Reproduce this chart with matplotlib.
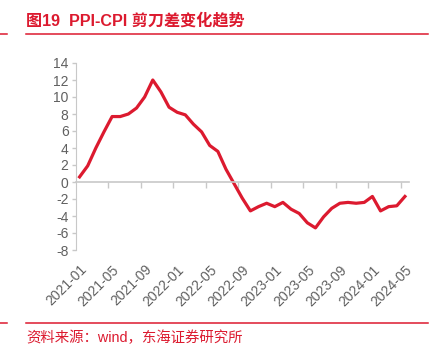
import matplotlib
matplotlib.use('Agg')
import matplotlib.pyplot as plt
from matplotlib.lines import Line2D
import pandas as pd

# PPI yoy minus CPI yoy, monthly, %
months = pd.date_range('2021-01', '2024-05', freq='MS').strftime('%Y-%m').tolist()
spread = [0.6, 1.9, 4.0, 5.9, 7.7, 7.7, 8.0, 8.7, 10.0, 12.0, 10.6, 8.8,
          8.2, 7.9, 6.8, 5.9, 4.3, 3.6, 1.5, -0.2, -1.9, -3.4, -2.9, -2.5,
          -2.9, -2.4, -3.2, -3.7, -4.8, -5.4, -4.1, -3.1, -2.5, -2.4, -2.5, -2.4,
          -1.7, -3.4, -2.9, -2.8, -1.7]
yticks = list(range(-8, 15, 2))

red = '#DC1A2F'
grey_txt = '#606060'
grey_ax = '#C8C8C8'
W, H = 434, 348

fig = plt.figure(figsize=(W / 100, H / 100), dpi=100)
ax = fig.add_axes([75.5 / W, 1 - 250 / H, (409 - 75.5) / W, (250 - 63) / H])

x = list(range(len(months)))
ax.plot(x, spread, color=red, lw=2.3, solid_joinstyle='round', clip_on=False)

ax.set_xlim(-0.5, len(months) - 0.5)
ax.set_ylim(-8, 14)
ax.set_yticks(yticks)
ax.set_yticklabels([str(v) for v in yticks], fontsize=10, color=grey_txt,
                   family='Liberation Sans')

for s in ['top', 'right']:
    ax.spines[s].set_visible(False)
ax.spines['left'].set_color(grey_ax)
ax.spines['bottom'].set_color(grey_ax)
ax.spines['bottom'].set_position(('data', 0))
ax.spines['bottom'].set_linewidth(1.2)

# tick marks between categories every 4 months, labels on a separate axis below
ax.set_xticks([i + 3.5 for i in range(0, len(months) - 4, 4)])
ax.set_xticklabels([])
ax.tick_params(axis='x', direction='out', length=4, color=grey_ax, width=1)
ax.tick_params(axis='y', direction='out', length=3, color=grey_ax, width=1, pad=2)

sec = ax.secondary_xaxis('bottom')
sec.set_xticks(x[::4])
sec.set_xticklabels(months[::4], rotation=45, ha='right', va='top',
                    rotation_mode='anchor', fontsize=10, color=grey_txt,
                    family='Liberation Sans')
sec.tick_params(length=0, pad=9)
sec.spines['bottom'].set_visible(False)

# header and footer
fig.text(26 / W, 1 - 21 / H, '图19  PPI-CPI 剪刀差变化趋势', color=red, fontsize=11.6,
         fontweight='bold', family=['Liberation Sans', 'Noto Sans CJK SC'],
         ha='left', va='center')
fig.text(26 / W, 1 - 338 / H, '资料来源：wind，东海证券研究所', color=red, fontsize=10.4,
         family=['Liberation Sans', 'Noto Sans CJK SC'], ha='left', va='center')

for yy in (34, 322.7):
    fig.add_artist(Line2D([26 / W, 428 / W], [1 - yy / H] * 2, color=red, lw=1.1))
    fig.add_artist(Line2D([0, 7 / W], [1 - yy / H] * 2, color=red, lw=1.1))

fig.savefig('out.png', dpi=100)
